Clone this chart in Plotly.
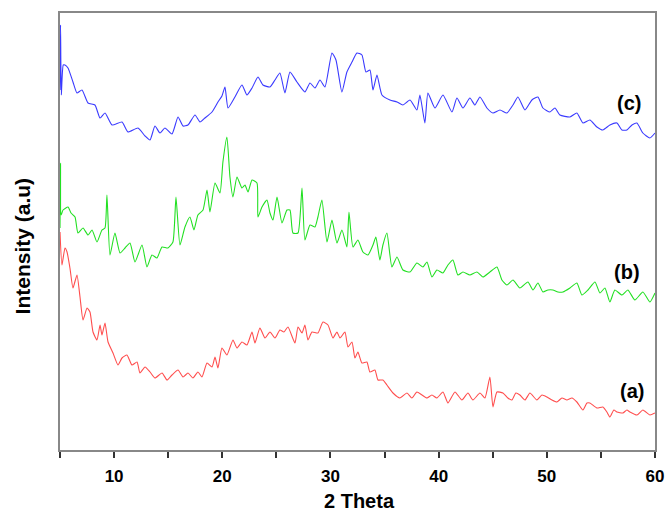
import plotly.graph_objects as go

# ---- data (2 Theta, intensity in arbitrary units) ----
theta_c = [5.0, 5.05, 5.12, 5.3, 5.46, 5.74, 6.20, 6.57, 7.03, 7.59, 8.23, 8.70, 9.16, 9.81, 10.73,
           11.28, 12.21, 12.86, 13.32, 13.78, 14.24, 14.70, 15.35, 15.91, 16.37, 16.83, 17.48, 17.94,
           18.40, 19.05, 19.60, 19.97, 20.25, 20.53, 21.17, 21.82, 22.28, 22.75, 23.30, 23.76, 24.41,
           24.87, 25.33, 25.79, 26.26, 26.90, 27.64, 28.11, 28.57, 29.03, 29.49, 30.14, 30.51, 31.06,
           31.52, 31.99, 32.45, 32.91, 33.28, 33.65, 33.93, 34.30, 34.76, 35.50, 36.15, 36.70, 37.35,
           37.99, 38.27, 38.73, 39.01, 39.66, 40.40, 41.23, 41.69, 42.25, 42.89, 43.35, 43.82, 44.46,
           45.02, 45.67, 46.31, 46.87, 47.33, 47.98, 48.62, 49.18, 49.64, 50.29, 50.75, 51.21, 52.14,
           52.78, 53.34, 53.98, 54.63, 55.18, 55.83, 56.48, 56.94, 57.40, 57.87, 58.33, 58.88, 59.53, 60.0]
int_c = [360, 425, 355, 385, 385, 382, 368, 357, 360, 347, 345, 332, 337, 325, 328,
         318, 322, 314, 310, 324, 317, 322, 316, 333, 324, 325, 335, 328,
         332, 338, 348, 354, 363, 342, 353, 365, 355, 362, 373, 365, 363,
         370, 377, 357, 378, 368, 358, 367, 362, 370, 363, 397, 390, 358,
         378, 388, 397, 395, 378, 380, 360, 375, 355, 350, 348, 345, 350,
         340, 355, 327, 357, 342, 355, 338, 352, 342, 352, 345, 353, 342,
         337, 340, 337, 345, 353, 340, 350, 353, 342, 338, 342, 335, 333,
         337, 327, 330, 323, 320, 325, 327, 320, 320, 325, 327, 317, 312, 317]

theta_b = [5.0, 5.05, 5.1, 5.28, 5.74, 6.02, 6.39, 6.66, 7.13, 7.59, 7.96, 8.42, 8.88, 9.16, 9.34,
           9.62, 10.08, 10.55, 11.01, 11.47, 11.93, 12.58, 13.04, 13.50, 13.96, 14.43, 14.98, 15.44,
           15.72, 16.09, 16.55, 17.01, 17.38, 17.75, 18.22, 18.59, 18.86, 19.33, 19.79, 20.06, 20.43,
           20.71, 20.99, 21.36, 21.82, 22.10, 22.38, 22.75, 23.21, 23.30, 23.67, 24.13, 24.41, 24.69,
           25.06, 25.52, 25.98, 26.26, 26.53, 27.00, 27.37, 27.64, 28.11, 28.57, 28.84, 29.21, 29.68,
           30.14, 30.60, 31.06, 31.52, 31.71, 32.08, 32.54, 33.00, 33.47, 33.93, 34.20, 34.57, 34.85,
           35.22, 35.68, 36.15, 36.70, 37.35, 37.99, 38.55, 38.92, 39.38, 39.84, 40.40, 40.86, 41.32,
           41.78, 42.25, 42.89, 43.54, 44.09, 44.74, 45.39, 45.85, 46.31, 46.87, 47.51, 48.25, 48.72,
           49.18, 49.64, 50.10, 50.56, 51.03, 51.49, 52.14, 52.78, 53.24, 53.80, 54.45, 54.91, 55.37,
           55.83, 56.29, 56.94, 57.49, 58.14, 58.88, 59.53, 60.0]
int_b = [222, 287, 235, 240, 243, 237, 233, 217, 222, 215, 220, 208, 220, 222, 255,
         195, 217, 197, 202, 207, 188, 205, 183, 195, 192, 203, 202, 208,
         253, 205, 223, 233, 220, 235, 240, 260, 238, 267, 257, 288, 313,
         273, 253, 273, 262, 265, 258, 270, 267, 233, 243, 250, 237, 230,
         253, 227, 240, 240, 217, 217, 262, 210, 225, 223, 233, 250, 208,
         230, 207, 220, 203, 238, 203, 210, 198, 195, 205, 213, 190, 205,
         217, 183, 193, 180, 178, 187, 183, 188, 173, 180, 177, 185, 190,
         175, 178, 175, 178, 173, 178, 183, 170, 165, 170, 162, 168, 160,
         167, 158, 160, 160, 158, 158, 162, 167, 155, 160, 168, 157, 162,
         148, 160, 155, 160, 150, 158, 148, 157]

theta_a = [5.0, 5.18, 5.46, 5.65, 5.92, 6.20, 6.57, 6.85, 7.13, 7.50, 7.77, 8.05, 8.42, 8.70, 8.88,
           9.16, 9.44, 9.90, 10.36, 10.73, 11.19, 11.65, 12.12, 12.39, 12.86, 13.32, 13.78, 14.43,
           14.89, 15.35, 15.91, 16.37, 16.83, 17.29, 17.75, 18.12, 18.59, 19.05, 19.33, 19.60, 19.97,
           20.43, 20.99, 21.36, 21.82, 22.28, 22.75, 23.02, 23.48, 23.95, 24.41, 24.87, 25.33, 25.70,
           26.07, 26.72, 27.00, 27.37, 27.64, 27.92, 28.29, 28.84, 29.31, 29.77, 30.23, 30.60, 30.88,
           31.34, 31.62, 31.99, 32.26, 32.54, 32.91, 33.37, 33.65, 34.11, 34.39, 34.85, 35.22, 35.78,
           36.42, 37.07, 37.53, 37.99, 38.46, 38.92, 39.38, 39.84, 40.40, 40.86, 41.51, 42.15, 42.71,
           43.17, 43.82, 44.28, 44.74, 45.02, 45.39, 45.94, 46.40, 46.77, 47.14, 47.51, 47.98, 48.44,
           49.08, 49.55, 50.01, 50.47, 50.93, 51.40, 51.86, 52.32, 52.78, 53.34, 53.71, 53.98, 54.63,
           55.18, 55.55, 55.83, 56.20, 56.48, 57.03, 57.40, 57.68, 58.33, 58.88, 59.53, 60.0]
int_a = [218, 185, 202, 198, 182, 162, 175, 153, 130, 142, 138, 118, 110, 125, 115,
         127, 108, 97, 85, 92, 95, 85, 88, 77, 83, 78, 72, 77,
         70, 75, 80, 73, 77, 72, 78, 73, 87, 83, 93, 82, 102,
         95, 110, 102, 108, 105, 118, 107, 122, 112, 118, 112, 120, 118,
         123, 107, 123, 117, 125, 110, 118, 117, 128, 125, 112, 118, 112,
         118, 103, 108, 92, 98, 87, 88, 78, 80, 70, 70, 65, 57,
         52, 57, 52, 58, 55, 52, 55, 52, 58, 47, 58, 50, 57,
         50, 57, 52, 73, 43, 58, 57, 52, 50, 57, 55, 50, 57,
         50, 55, 53, 50, 48, 52, 50, 52, 48, 40, 47, 47, 42,
         43, 38, 33, 40, 38, 37, 40, 38, 35, 40, 35, 37]

series_labels = ["(c)", "(b)", "(a)"]
label_pos_theta = [57.6, 57.4, 57.9]
label_pos_int = [347, 178, 59]

x_tickvals = [5, 10, 15, 20, 25, 30, 35, 40, 45, 50, 55, 60]
x_ticktext = ["", "10", "", "20", "", "30", "", "40", "", "50", "", "60"]

FONT = "Liberation Sans, Arial, sans-serif"

fig = go.Figure()
fig.add_trace(go.Scatter(x=theta_a, y=int_a, mode="lines",
                         line=dict(color="#ff4d4d", width=1.1, shape="spline", smoothing=0.5),
                         showlegend=False))
fig.add_trace(go.Scatter(x=theta_b, y=int_b, mode="lines",
                         line=dict(color="#22e022", width=1.1, shape="spline", smoothing=0.5),
                         showlegend=False))
fig.add_trace(go.Scatter(x=theta_c, y=int_c, mode="lines",
                         line=dict(color="#3a3aff", width=1.1, shape="spline", smoothing=0.5),
                         showlegend=False))

for lab, tx, ty in zip(series_labels, label_pos_theta, label_pos_int):
    fig.add_annotation(x=tx, y=ty, text="<b>" + lab + "</b>", showarrow=False,
                       font=dict(family=FONT, size=20, color="black"))

# axis titles placed as paper annotations
fig.add_annotation(xref="paper", yref="paper", x=0.504, y=-0.1165, xanchor="center", yanchor="middle",
                   text="<b>2 Theta</b>", showarrow=False, borderpad=0,
                   font=dict(family=FONT, size=20, color="black"))
fig.add_annotation(xref="paper", yref="paper", x=-0.063, y=0.467, xanchor="center", yanchor="middle",
                   text="<b>Intensity (a.u)</b>", textangle=-90, showarrow=False,
                   font=dict(family=FONT, size=21, color="black"))

fig.update_layout(
    width=666, height=513,
    margin=dict(l=60, r=11, t=13, b=63, autoexpand=False),
    paper_bgcolor="white", plot_bgcolor="white",
    font=dict(family=FONT, color="black"),
    xaxis=dict(
        range=[5, 60], tickmode="array", tickvals=x_tickvals, ticktext=x_ticktext,
        ticks="outside", ticklen=6, tickwidth=2, tickcolor="#333",
        showline=True, linecolor="#888", linewidth=2, mirror=True,
        showgrid=False, zeroline=False, automargin=False, ticklabeloverflow="allow",
        ticklabelstandoff=4,
        tickfont=dict(family=FONT, size=17, color="black", weight="bold"),
    ),
    yaxis=dict(
        range=[0, 437], showticklabels=False, ticks="",
        showline=True, linecolor="#888", linewidth=2, mirror=True,
        showgrid=False, zeroline=False, automargin=False,
    ),
)

# remove the default 8px page margin so the 666x513 figure fills the window exactly
fig.write_html("out.html",
               config={"displayModeBar": False, "staticPlot": True},
               post_script="document.body.style.margin='0';document.body.style.overflow='hidden';")
